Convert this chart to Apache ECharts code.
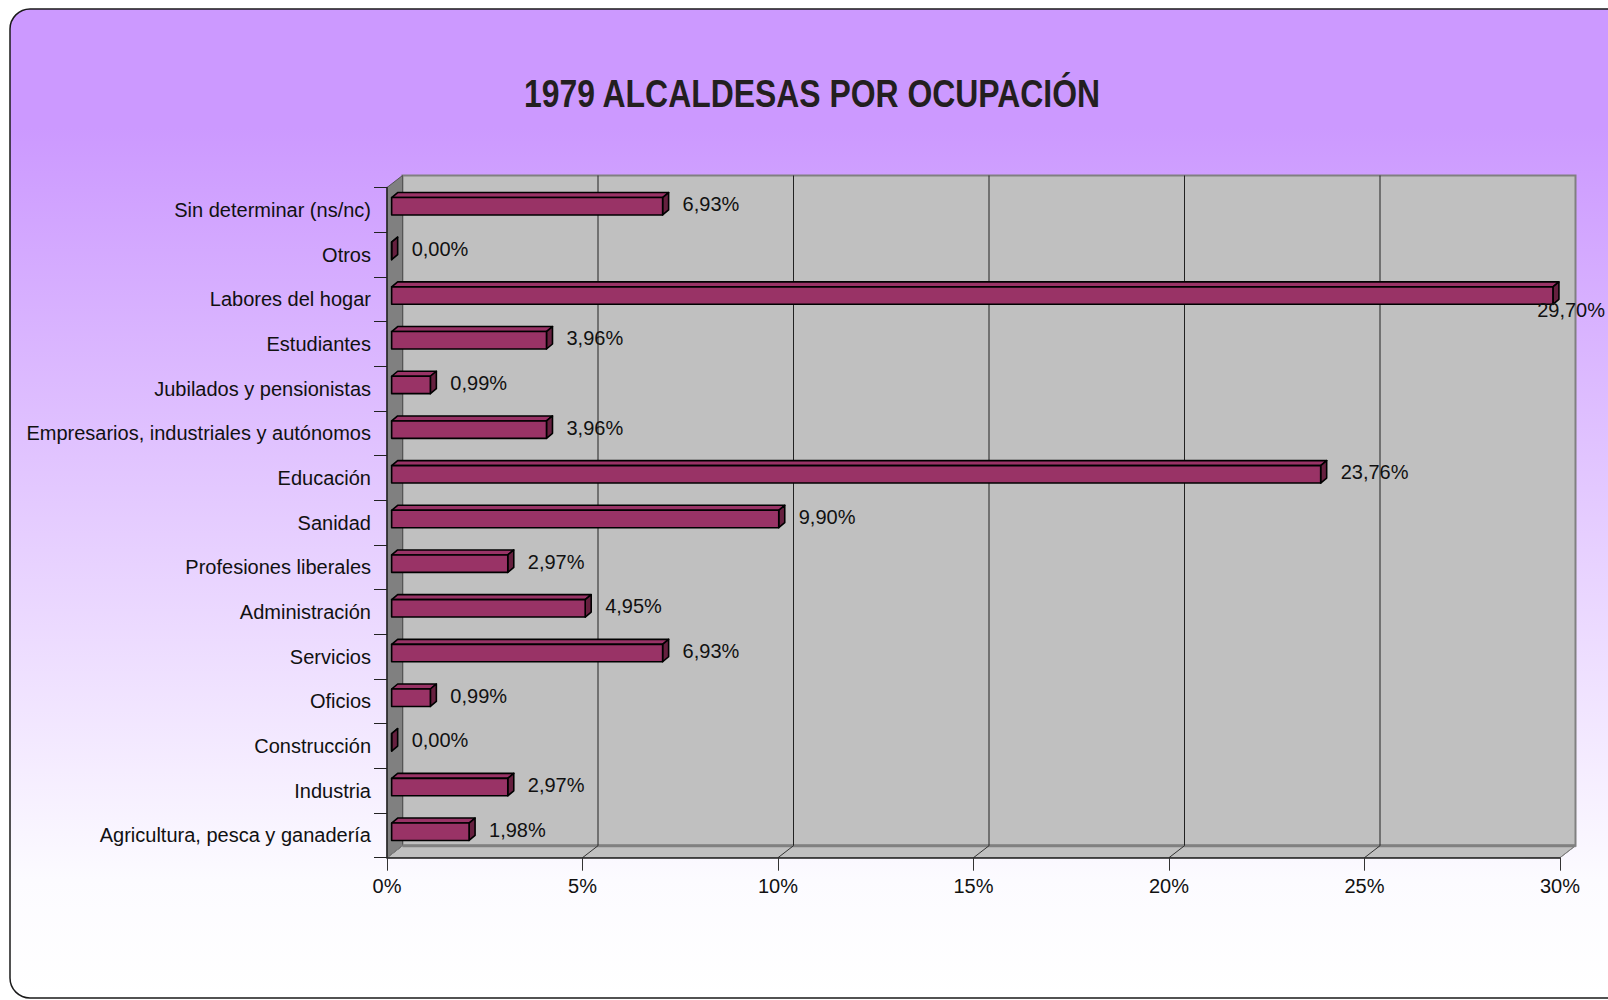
<!DOCTYPE html>
<html>
<head>
<meta charset="utf-8">
<title>1979 Alcaldesas por ocupación</title>
<script src="https://cdn.jsdelivr.net/npm/echarts@6/dist/echarts.min.js"></script>
<style>
  html, body { margin: 0; padding: 0; background: #fff; }
  #chart { width: 1608px; height: 1000px; }
</style>
</head>
<body>
<div id="chart"></div>
<script>
// categorias, de arriba a abajo
var categories = [
  'Sin determinar (ns/nc)',
  'Otros',
  'Labores del hogar',
  'Estudiantes',
  'Jubilados y pensionistas',
  'Empresarios, industriales y autónomos',
  'Educación',
  'Sanidad',
  'Profesiones liberales',
  'Administración',
  'Servicios',
  'Oficios',
  'Construcción',
  'Industria',
  'Agricultura, pesca y ganadería'
]
var values = [6.93, 0.00, 29.70, 3.96, 0.99, 3.96, 23.76, 9.90, 2.97, 4.95, 6.93, 0.99, 0.00, 2.97, 1.98]
var xTicks = [0, 5, 10, 15, 20, 25, 30]

var FONT = '"Liberation Sans", Arial, sans-serif'
// profundidad del efecto 3D (pared del fondo)
var DX = 15.5, DY = -12

function fmt(v) {
  return v.toFixed(2).replace('.', ',') + '%'
}

var chart = echarts.init(document.getElementById('chart'), null, { renderer: 'svg' })

// paredes: fondo, lateral y suelo
function renderWalls(params, api) {
  var cs = params.coordSys
  var x0 = cs.x, y0 = cs.y, x1 = cs.x + cs.width, y1 = cs.y + cs.height
  var children = [
    { type: 'rect', shape: { x: x0 + DX, y: y0 + DY, width: x1 - x0, height: y1 - y0 },
      style: { fill: '#c0c0c0', stroke: '#808080', lineWidth: 2 } },
    { type: 'polygon', shape: { points: [[x0, y1], [x1, y1], [x1 + DX, y1 + DY], [x0 + DX, y1 + DY]] },
      style: { fill: '#c0c0c0', stroke: '#808080', lineWidth: 1 } },
    { type: 'polygon', shape: { points: [[x0, y0], [x0 + DX, y0 + DY], [x0 + DX, y1 + DY], [x0, y1]] },
      style: { fill: '#808080', stroke: '#555', lineWidth: 1 } },
    { type: 'line', shape: { x1: x0 + DX, y1: y1 + DY, x2: x1 + DX, y2: y1 + DY },
      style: { stroke: '#808080', lineWidth: 3 } }
  ]
  xTicks.forEach(function (t) {
    var x = api.coord([t, 0])[0]
    if (t > 0 && t < 30) {
      children.push({ type: 'line', shape: { x1: x + DX, y1: y0 + DY, x2: x + DX, y2: y1 + DY },
        style: { stroke: '#222', lineWidth: 1 } })
    }
    children.push({ type: 'line', shape: { x1: x, y1: y1, x2: x + DX, y2: y1 + DY },
      style: { stroke: t > 0 && t < 30 ? '#333' : '#808080', lineWidth: 1 } })
  })
  return { type: 'group', children: children }
}

// barras con caras superior y lateral
function renderBar(params, api) {
  var v = api.value(0), c = api.value(1)
  var p0 = api.coord([0, c])
  var p1 = api.coord([v, c])
  var band = api.size([0, 1])[1]
  var h = band * 0.39
  var ox = DX * 0.3, oy = DY * 0.3
  var bx = 6, by = -5
  var xl = p0[0] + ox, xr = p1[0] + ox
  var cy = p0[1] + oy
  var yt = cy - h / 2, yb = cy + h / 2
  var line = { stroke: '#000', lineWidth: 1.6, lineJoin: 'round' }
  var text = fmt(v)
  var tw = echarts.format.getTextRect ? echarts.format.getTextRect(text, '20px ' + FONT).width : 64
  var lx = xr + bx + 14, ly = cy - 2
  if (lx + tw > api.getWidth()) {
    // no cabe a la derecha: debajo del extremo de la barra
    lx = Math.min(xr - 2, api.getWidth() - tw - 3)
    ly = yb + 6
  }
  return {
    type: 'group',
    children: [
      { type: 'polygon', shape: { points: [[xl, yt], [xr, yt], [xr + bx, yt + by], [xl + bx, yt + by]] },
        style: Object.assign({ fill: '#993366' }, line) },
      { type: 'polygon', shape: { points: [[xr, yt], [xr + bx, yt + by], [xr + bx, yb + by], [xr, yb]] },
        style: Object.assign({ fill: '#66203f' }, line) },
      { type: 'rect', shape: { x: xl, y: yt, width: xr - xl, height: h },
        style: Object.assign({ fill: '#993366' }, line) },
      { type: 'text', x: lx, y: ly,
        style: { text: text, fill: '#111', font: '20px ' + FONT, align: 'left', verticalAlign: 'middle' } }
    ]
  }
}

var option = {
  animation: false,
  graphic: [{
    type: 'rect',
    z: -10,
    silent: true,
    shape: { x: 10, y: 9, width: 1640, height: 989, r: 20 },
    style: {
      fill: new echarts.graphic.LinearGradient(0, 0, 0, 1, [
        { offset: 0, color: '#cc99ff' },
        { offset: 0.12, color: '#cc99ff' },
        { offset: 0.88, color: '#fcfbff' },
        { offset: 1, color: '#ffffff' }
      ]),
      stroke: '#1a1a1a',
      lineWidth: 1.5
    }
  }, {
    // titulo en letra estrecha (escalado horizontal)
    type: 'text',
    x: 812,
    y: 93,
    scaleX: 0.84,
    silent: true,
    style: {
      text: '1979 ALCALDESAS POR OCUPACIÓN',
      font: 'bold 38px ' + FONT,
      fill: '#231f20',
      align: 'center',
      verticalAlign: 'middle'
    }
  }],
  grid: { left: 387, right: 48, top: 187.5, bottom: 142.3 },
  xAxis: {
    type: 'value',
    min: 0,
    max: 30,
    interval: 5,
    axisLine: { show: true, lineStyle: { color: '#222', width: 1.5 } },
    axisTick: { show: true, length: 13, lineStyle: { color: '#333' } },
    splitLine: { show: false },
    axisLabel: {
      formatter: '{value}%',
      margin: 18,
      fontSize: 20,
      fontFamily: FONT,
      color: '#111'
    }
  },
  yAxis: {
    type: 'category',
    inverse: true,
    data: categories,
    axisLine: { show: true, lineStyle: { color: '#222', width: 1.5 } },
    axisTick: { show: true, length: 13, lineStyle: { color: '#222' } },
    axisLabel: {
      margin: 16,
      fontSize: 20,
      fontFamily: FONT,
      color: '#111'
    }
  },
  series: [{
    type: 'custom',
    name: 'walls',
    clip: false,
    silent: true,
    z: 0,
    renderItem: renderWalls,
    encode: { x: 0, y: 1 },
    data: [[0, 0]]
  }, {
    type: 'custom',
    name: 'Alcaldesas',
    clip: false,
    z: 3,
    renderItem: renderBar,
    encode: { x: 0, y: 1 },
    data: values.map(function (v, i) { return [v, i] })
  }]
}

chart.setOption(option)
</script>
</body>
</html>
